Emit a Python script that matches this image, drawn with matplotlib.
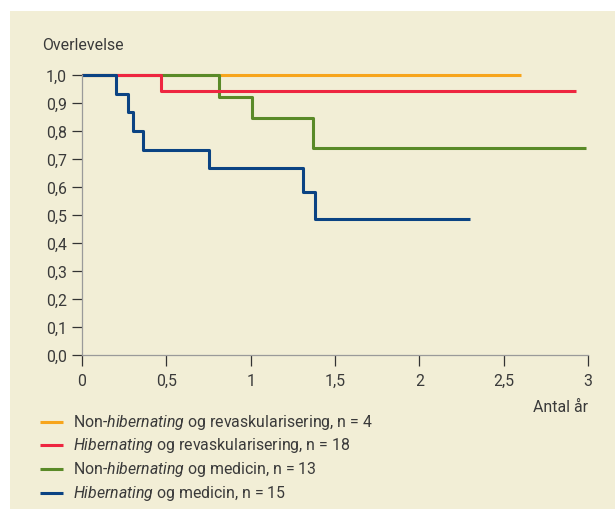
import matplotlib
matplotlib.use("Agg")
import matplotlib.pyplot as plt
from matplotlib.lines import Line2D

plt.rcParams['font.family'] = ['Roboto', 'DejaVu Sans']
plt.rcParams['mathtext.fontset'] = 'custom'
plt.rcParams['mathtext.it'] = 'Roboto:italic'
plt.rcParams['mathtext.rm'] = 'Roboto'

# ===== Data (Kaplan-Meier, aflæst) =====
orange_t = [0, 2.60]
orange_s = [1.0, 1.0]

red_t = [0, 0.47, 2.93]
red_s = [1.0, 0.944, 0.944]

green_t = [0, 0.81, 1.01, 1.37, 2.99]
green_s = [1.0, 0.923, 0.846, 0.738, 0.738]

blue_t = [0, 0.20, 0.27, 0.30, 0.36, 0.75, 1.31, 1.38, 2.30]
blue_s = [1.0, 0.933, 0.867, 0.800, 0.733, 0.667, 0.582, 0.485, 0.485]

labels = [
    r"Non-$\it{hibernating}$ og revaskularisering, n = 4",
    r"$\it{Hibernating}$ og revaskularisering, n = 18",
    r"Non-$\it{hibernating}$ og medicin, n = 13",
    r"$\it{Hibernating}$ og medicin, n = 15",
]
colors = ["#F7A51C", "#EE2640", "#5A8A28", "#0B4383"]

xticks = [0, 0.5, 1, 1.5, 2, 2.5, 3]
xticklabels = ["0", "0,5", "1", "1,5", "2", "2,5", "3"]
yticks = [i / 10 for i in range(11)]
yticklabels = [f"{v:.1f}".replace(".", ",") for v in yticks]

BG = "#F2EED6"
TXT = "#3a3a3a"
FS = 11.4

fig = plt.figure(figsize=(6.15, 5.10), dpi=100)
fig.patch.set_facecolor("white")
# beige panel
fig.add_artist(plt.Rectangle((10 / 615, 0), 1, 1 - 12 / 510, transform=fig.transFigure,
                             facecolor=BG, edgecolor="none", zorder=0))

ax = fig.add_axes([82 / 615, 1 - 356 / 510, (588 - 82) / 615, (356 - 76) / 510])
ax.set_facecolor("none")

series = [(orange_t, orange_s), (green_t, green_s), (red_t, red_s), (blue_t, blue_s)]
cols = [colors[0], colors[2], colors[1], colors[3]]
for (t, s), c in zip(series, cols):
    ax.step(t, s, where="post", color=c, lw=2.2, clip_on=False, solid_capstyle="butt")

ax.set_xlim(0, 3)
ax.set_ylim(0, 1)
ax.set_xticks(xticks)
ax.set_xticklabels(xticklabels)
ax.set_yticks(yticks)
ax.set_yticklabels(yticklabels)
ax.tick_params(axis="both", colors="#333333", labelcolor=TXT, labelsize=FS, width=0.9)
ax.tick_params(axis="y", length=7, pad=4)
ax.tick_params(axis="x", length=8, pad=5)
for side in ["top", "right"]:
    ax.spines[side].set_visible(False)
for side in ["left", "bottom"]:
    ax.spines[side].set_color("#9a9a9a")
    ax.spines[side].set_linewidth(0.9)

fig.text(42 / 615, 1 - 46 / 510, "Overlevelse", fontsize=FS, color=TXT, va="center", ha="left")
fig.text(588 / 615, 1 - 408 / 510, "Antal år", fontsize=FS, color=TXT, va="center", ha="right")

# legend
rows_y = [423, 446, 470, 494]
for lab, c, yy in zip(labels, colors, rows_y):
    yf = 1 - yy / 510
    fig.add_artist(Line2D([40 / 615, 63 / 615], [yf, yf], color=c, lw=2.2,
                          transform=fig.transFigure, solid_capstyle="butt"))
    fig.text(73 / 615, yf, lab, fontsize=FS, color=TXT, va="center", ha="left")

fig.savefig("out.png", dpi=100, facecolor=fig.get_facecolor())
